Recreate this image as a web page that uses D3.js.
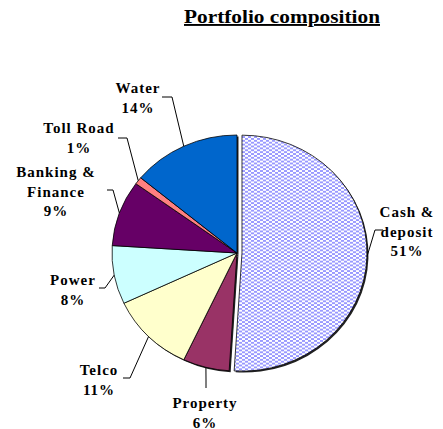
<!DOCTYPE html>
<html lang="en">
<head>
    <meta charset="UTF-8">
    <title>Portfolio composition</title>
    <style>
        body { margin: 0; background: #fff; }
    </style>
</head>
<body>
    <svg width="443" height="429" id="svg"></svg>
    <script src="https://d3js.org/d3.v7.min.js"></script>
    <script>
        // data
        const categories = ["Cash & deposit", "Property", "Telco", "Power", "Banking & Finance", "Toll Road", "Water"]
        const shares = [51, 6, 11, 8, 9, 1, 14]
        const labelLines = [["Cash &", "deposit"], ["Property"], ["Telco"], ["Power"], ["Banking &", "Finance"], ["Toll Road"], ["Water"]]

        // styles / layout
        const font = "'Liberation Serif', 'Times New Roman', 'DejaVu Serif', serif"
        const colors = ["url(#dots)", "#993366", "#ffffcc", "#ccffff", "#660066", "#ff8080", "#0066cc"]
        const explode = [5, 0, 0, 0, 0, 0, 0]
        // label block: centre x, centre y of first line, leader line end point and elbow direction
        const labelLayout = [
            { x: 407, y: 212, lx: 383, ly: 230, dx: -8, dy: 0 },
            { x: 205, y: 403, lx: 206, ly: 388, dx: 0, dy: -8 },
            { x: 99, y: 370, lx: 123, ly: 378, dx: 7, dy: 0 },
            { x: 73, y: 280, lx: 99, ly: 288, dx: 6, dy: 0 },
            { x: 56, y: 172, lx: 107, ly: 190, dx: 6, dy: 0 },
            { x: 79, y: 128, lx: 118, ly: 138, dx: 9, dy: 0 },
            { x: 138, y: 88, lx: 162, ly: 97, dx: 10, dy: 0 }
        ]

        const svg = d3.select("svg#svg")
        const cx = 237, cy = 253, rx = 125, ry = 118
        const k = ry / rx

        const defs = svg.append("defs")
        const pat = defs.append("pattern").attr("id", "dots")
            .attr("patternUnits", "userSpaceOnUse").attr("width", 6).attr("height", 4)
        pat.append("rect").attr("width", 6).attr("height", 4).attr("fill", "#ffffff")
        pat.append("rect").attr("x", 0).attr("y", 0).attr("width", 3).attr("height", 2).attr("fill", "#9999ff")
        pat.append("rect").attr("x", 3).attr("y", 2).attr("width", 3).attr("height", 2).attr("fill", "#9999ff")

        // title
        svg.append("text")
            .attr("x", 282).attr("y", 23)
            .attr("text-anchor", "middle")
            .attr("font-family", font)
            .attr("font-weight", "bold")
            .attr("textLength", 196)
            .attr("lengthAdjust", "spacingAndGlyphs")
            .attr("font-size", 19)
            .attr("text-decoration", "underline")
            .text("Portfolio composition")

        const pie = d3.pie().sort(null).value(d => d)
        const arcs = pie(shares)
        const arc = d3.arc().innerRadius(0).outerRadius(rx)

        const offset = (d, i) => {
            const a = (d.startAngle + d.endAngle) / 2
            return [explode[i] * Math.sin(a), -explode[i] * Math.cos(a) * k]
        }

        const g = svg.append("g").attr("transform", `translate(${cx},${cy}) scale(1,${k})`)

        // shadow
        g.selectAll("path.shadow").data(arcs).join("path")
            .attr("class", "shadow")
            .attr("d", arc)
            .attr("transform", (d, i) => {
                const o = offset(d, i)
                return `translate(${o[0] + 1.5},${o[1] / k + 1.5})`
            })
            .attr("fill", "#222")

        g.selectAll("path.slice").data(arcs).join("path")
            .attr("class", "slice")
            .attr("d", arc)
            .attr("transform", (d, i) => {
                const o = offset(d, i)
                return `translate(${o[0]},${o[1] / k})`
            })
            .attr("fill", (d, i) => colors[i])
            .attr("stroke", "#000")
            .attr("stroke-width", 0.8)
            .attr("stroke-linejoin", "round")

        // leader lines
        arcs.forEach((d, i) => {
            const a = (d.startAngle + d.endAngle) / 2
            const o = offset(d, i)
            const px = cx + o[0] + rx * Math.sin(a)
            const py = cy + o[1] - ry * Math.cos(a)
            const L = labelLayout[i]
            svg.append("polyline")
                .attr("points", `${L.lx},${L.ly} ${L.lx + L.dx},${L.ly + L.dy} ${px},${py}`)
                .attr("fill", "none")
                .attr("stroke", "#000")
                .attr("stroke-width", 1)
        })

        // labels
        arcs.forEach((d, i) => {
            const L = labelLayout[i]
            const lines = labelLines[i].concat([shares[i] + "%"])
            const t = svg.append("text")
                .attr("text-anchor", "middle")
                .attr("font-family", font)
                .attr("font-weight", "bold")
                .attr("font-size", 15)
                .attr("letter-spacing", 1)
            lines.forEach((s, j) => {
                t.append("tspan")
                    .attr("x", L.x)
                    .attr("y", L.y + j * 19.5 + 5)
                    .text(s)
            })
        })
    </script>
</body>
</html>
